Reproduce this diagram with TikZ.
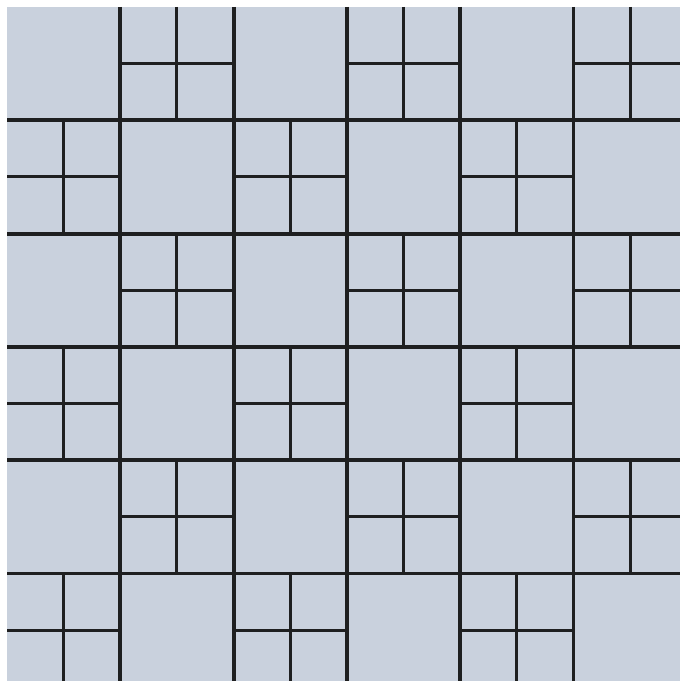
\documentclass[tikz,border=0pt]{standalone}
\usepackage{xcolor}
\usepackage{tikz}
\definecolor{tileFill}{HTML}{C9D1DD}
\definecolor{tileInk}{HTML}{1E1F20}
\tikzset{
  tilefill/.style={fill=tileFill, draw=none},
  tileline/.style={draw=tileInk, line width=2.2pt},
  quarterline/.style={draw=tileInk, line width=1.7pt},
}

\begin{document}
\begin{tikzpicture}[x=1cm,y=1cm]

% --- geometry ---------------------------------------------------------------
\def\pageW{13.60}   % picture width
\def\pageH{13.62}   % picture height
\def\mrg{0.14}      % white margin on the left and at the top
\def\cell{2.266}    % side of one large tile

\pgfmathsetmacro{\xL}{\mrg}
\pgfmathsetmacro{\yT}{\pageH-\mrg}
\pgfmathsetmacro{\half}{\cell/2}

\useasboundingbox (0,0) rectangle (\pageW,\pageH);

\begin{scope}
  \clip (\xL,0) rectangle (\pageW,\yT);
  % background of the floor
  \fill[tilefill] (\xL,0) rectangle (\pageW,\yT);

  % --- quartered tiles (checkerboard) ---------------------------------------
  \foreach \r in {0,...,5}{
    \foreach \c in {0,...,5}{
      \pgfmathtruncatemacro{\odd}{mod(\r+\c,2)}
      \ifnum\odd=1
        \draw[quarterline]
          (\xL+\c*\cell+\half,\yT-\r*\cell) -- (\xL+\c*\cell+\half,\yT-\r*\cell-\cell);
        \draw[quarterline]
          (\xL+\c*\cell,\yT-\r*\cell-\half) -- (\xL+\c*\cell+\cell,\yT-\r*\cell-\half);
      \fi
    }
  }

  % --- main grid lines ------------------------------------------------------
  \foreach \k in {1,...,5}{
    \draw[tileline] (\xL+\k*\cell,\yT) -- (\xL+\k*\cell,0);
    \draw[tileline] (\xL,\yT-\k*\cell) -- (\pageW,\yT-\k*\cell);
  }
\end{scope}

\end{tikzpicture}
\end{document}
